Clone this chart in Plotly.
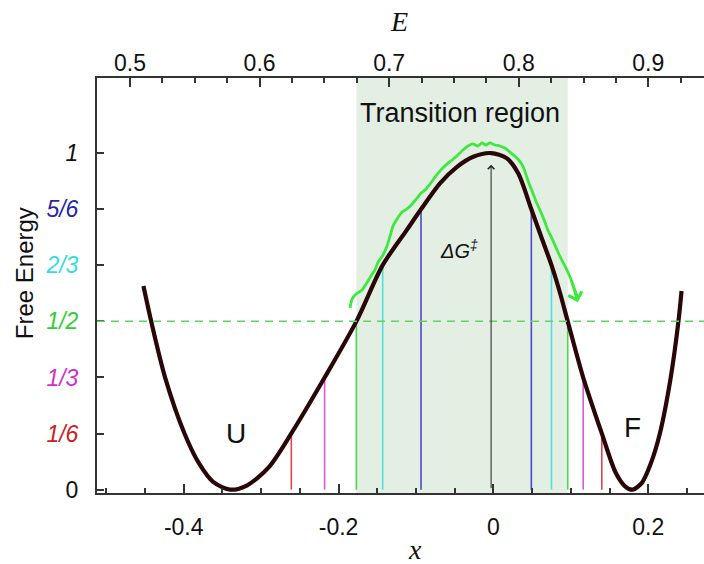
import plotly.graph_objects as go

# Free-energy profile along the reaction coordinate x (black curve)
curve_x = [-0.452, -0.442, -0.424, -0.399, -0.380, -0.362, -0.340, -0.318, -0.290,
           -0.261, -0.218, -0.177, -0.143, -0.112, -0.0935, -0.069, -0.047, -0.026,
           -0.003, 0.017, 0.032, 0.049, 0.062, 0.075, 0.086, 0.096, 0.116, 0.140,
           0.158, 0.170, 0.180, 0.192, 0.203, 0.215, 0.229, 0.239, 0.243]
curve_g = [0.605, 0.5, 0.333, 0.167, 0.077, 0.023, 0.0, 0.013, 0.067,
           0.167, 0.333, 0.5, 0.667, 0.771, 0.833, 0.91, 0.959, 0.989,
           1.0, 0.985, 0.94, 0.833, 0.75, 0.667, 0.585, 0.5, 0.333, 0.167,
           0.05, 0.01, 0.0, 0.021, 0.076, 0.167, 0.333, 0.5, 0.59]

# Noisy trajectory drawn above the barrier (green)
traj_x = [-0.1852, -0.1826, -0.1774, -0.1697, -0.1645, -0.1581, -0.1529, -0.1490,
          -0.1426, -0.1374, -0.1335, -0.1297, -0.1245, -0.1181, -0.1116, -0.1052,
          -0.0987, -0.0935, -0.0884, -0.0819, -0.0742, -0.0677, -0.0600, -0.0535,
          -0.0458, -0.0394, -0.0329, -0.0265, -0.0200, -0.0148, -0.0097, -0.0045,
          0.0019, 0.0084, 0.0148, 0.0213, 0.0277, 0.0329, 0.0381, 0.0419, 0.0458,
          0.0510, 0.0561, 0.0613, 0.0665, 0.0703, 0.0742, 0.0794, 0.0845, 0.0897,
          0.0948, 0.1000, 0.1052, 0.1090]
traj_g = [0.540, 0.566, 0.581, 0.593, 0.611, 0.635, 0.653, 0.676,
          0.697, 0.724, 0.753, 0.783, 0.804, 0.825, 0.834, 0.848,
          0.866, 0.881, 0.890, 0.908, 0.932, 0.950, 0.967, 0.979,
          0.994, 1.009, 1.021, 1.027, 1.021, 1.030, 1.024, 1.030,
          1.024, 1.021, 1.015, 1.003, 0.991, 0.979, 0.961, 0.937, 0.911,
          0.881, 0.851, 0.825, 0.795, 0.771, 0.753, 0.727, 0.700, 0.676,
          0.653, 0.626, 0.593, 0.569]

# Level lines: energy level, crossing on the unfolded side, crossing on the folded side
level_values = [1/6, 1/3, 1/2, 2/3, 5/6]
level_left_x = [-0.261, -0.218, -0.177, -0.143, -0.0935]
level_right_x = [0.140, 0.116, 0.096, 0.075, 0.049]
level_colors = ["#d9474c", "#d65ad6", "#4fd44f", "#4fdede", "#4a4ac8"]

# Axis ticks
y_tickvals = [0, 1/6, 1/3, 1/2, 2/3, 5/6, 1]
y_ticktext = ["0",
              "<span style='color:#cc2020'><i>1/6</i></span>",
              "<span style='color:#cc33cc'><i>1/3</i></span>",
              "<span style='color:#33cc33'><i>1/2</i></span>",
              "<span style='color:#33dddd'><i>2/3</i></span>",
              "<span style='color:#2626a6'><i>5/6</i></span>",
              "<i>1</i>"]
x_tickvals = [-0.4, -0.2, 0, 0.2]
x_ticktext = ["-0.4", "-0.2", "0", "0.2"]
e_tickvals = [0.5, 0.6, 0.7, 0.8, 0.9]
e_ticktext = ["0.5", "0.6", "0.7", "0.8", "0.9"]

barrier_x = -0.003
barrier_top = 0.965
x0_pos = -0.177
x1_pos = 0.096

SANS = "Arial, Liberation Sans, Helvetica, sans-serif"
SERIF = "Times New Roman, Liberation Serif, serif"
TICK_FONT = dict(family=SANS, size=23, color="#111111")

fig = go.Figure()

# vertical level lines
for lvl, xl, xr, col in zip(level_values, level_left_x, level_right_x, level_colors):
    fig.add_trace(go.Scatter(x=[xl, xl, None, xr, xr], y=[0, lvl, None, 0, lvl],
                             mode="lines", line=dict(color=col, width=1.6),
                             hoverinfo="skip", showlegend=False))

# barrier profile
fig.add_trace(go.Scatter(x=curve_x, y=curve_g, mode="lines",
                         line=dict(color="#2a0707", width=4.2, shape="spline", smoothing=0.8),
                         showlegend=False))

# trajectory
fig.add_trace(go.Scatter(x=traj_x, y=traj_g, mode="lines",
                         line=dict(color="#3ee83e", width=2.8, shape="spline", smoothing=0.6),
                         showlegend=False))

# invisible trace carrying the top E axis
fig.add_trace(go.Scatter(x=[0.5, 0.9], y=[None, None], xaxis="x2", mode="lines",
                         showlegend=False, hoverinfo="skip"))

# transition region shading
fig.add_shape(type="rect", xref="x", yref="paper", x0=x0_pos, x1=x1_pos, y0=0, y1=1,
              fillcolor="#e3efe3", line=dict(width=0), layer="below")
# half-height dashed line
fig.add_shape(type="line", xref="paper", yref="y", x0=0, x1=1, y0=0.5, y1=0.5,
              line=dict(color="#5fd65f", width=1.5, dash="8px,6px"))

annotations = [
    dict(x=barrier_x, y=barrier_top, ax=barrier_x, ay=0, xref="x", yref="y",
         axref="x", ayref="y", showarrow=True, arrowhead=4, arrowsize=1.3,
         arrowwidth=1, arrowcolor="#222222", text=""),
    dict(x=traj_x[-1], y=traj_g[-1] - 0.012, ax=traj_x[-3], ay=traj_g[-3], xref="x", yref="y",
         axref="x", ayref="y", showarrow=True, arrowhead=4, arrowsize=1.1,
         arrowwidth=2.5, arrowcolor="#3ee83e", text=""),
    dict(x=-0.043, y=1.119, xref="x", yref="y", text="Transition region", showarrow=False,
         font=dict(family=SANS, size=27, color="#111111")),
    dict(x=-0.332, y=0.168, xref="x", yref="y", text="U", showarrow=False,
         font=dict(family=SANS, size=28, color="#111111")),
    dict(x=0.179, y=0.185, xref="x", yref="y", text="F", showarrow=False,
         font=dict(family=SANS, size=28, color="#111111")),
    dict(x=-0.045, y=0.712, xref="x", yref="y", text="<i>ΔG<sup>‡</sup></i>", showarrow=False,
         font=dict(family=SANS, size=20, color="#111111")),
    dict(x=x0_pos + 0.003, y=-0.05, xref="x", yref="y", text="<i>x<sub>0</sub></i>",
         showarrow=False, font=dict(family=SERIF, size=20, color="#3aa83a")),
    dict(x=x1_pos + 0.005, y=-0.05, xref="x", yref="y", text="<i>x<sub>1</sub></i>",
         showarrow=False, font=dict(family=SERIF, size=20, color="#3aa83a")),
    dict(x=0.524, y=-0.137, xref="paper", yref="paper", xanchor="center", yanchor="middle",
         text="<i>x</i>", showarrow=False, font=dict(family=SERIF, size=28, color="#111111")),
    dict(x=0.497, y=1.136, xref="paper", yref="paper", xanchor="center", yanchor="middle",
         text="<i>E</i>", showarrow=False, font=dict(family=SERIF, size=28, color="#111111")),
    dict(x=-0.12, y=0.53, xref="paper", yref="paper", xanchor="center", yanchor="middle",
         text="Free Energy", showarrow=False, textangle=-90,
         font=dict(family=SANS, size=24, color="#111111")),
]

fig.update_layout(
    width=704, height=564,
    margin=dict(l=97, r=0, t=78, b=71),
    paper_bgcolor="white", plot_bgcolor="white",
    annotations=annotations,
    xaxis=dict(range=[-0.512, 0.272], tickvals=x_tickvals, ticktext=x_ticktext,
               ticks="inside", ticklen=9, tickwidth=1.5, tickcolor="#333333",
               minor=dict(dtick=0.05, tick0=0, ticks="inside", ticklen=5,
                          tickwidth=1.5, tickcolor="#333333"),
               showline=True, linewidth=2, linecolor="#333333", showgrid=False,
               zeroline=False, tickfont=TICK_FONT, ticklabelstandoff=12),
    xaxis2=dict(range=[0.4745, 0.943], overlaying="x", side="top", anchor="y",
                tickvals=e_tickvals, ticktext=e_ticktext,
                ticks="inside", ticklen=9, tickwidth=1.5, tickcolor="#333333",
                minor=dict(dtick=0.025, tick0=0.5, ticks="inside", ticklen=5,
                           tickwidth=1.5, tickcolor="#333333"),
                showline=True, linewidth=2, linecolor="#333333", showgrid=False,
                zeroline=False, tickfont=TICK_FONT, ticklabelstandoff=-4),
    yaxis=dict(range=[-0.01, 1.223], tickvals=y_tickvals, ticktext=y_ticktext,
               ticks="inside", ticklen=7, tickwidth=1.5, tickcolor="#333333",
               showline=True, linewidth=2, linecolor="#333333", showgrid=False,
               zeroline=False, tickfont=TICK_FONT, ticklabelstandoff=12),
)

fig.write_html("out.html")
